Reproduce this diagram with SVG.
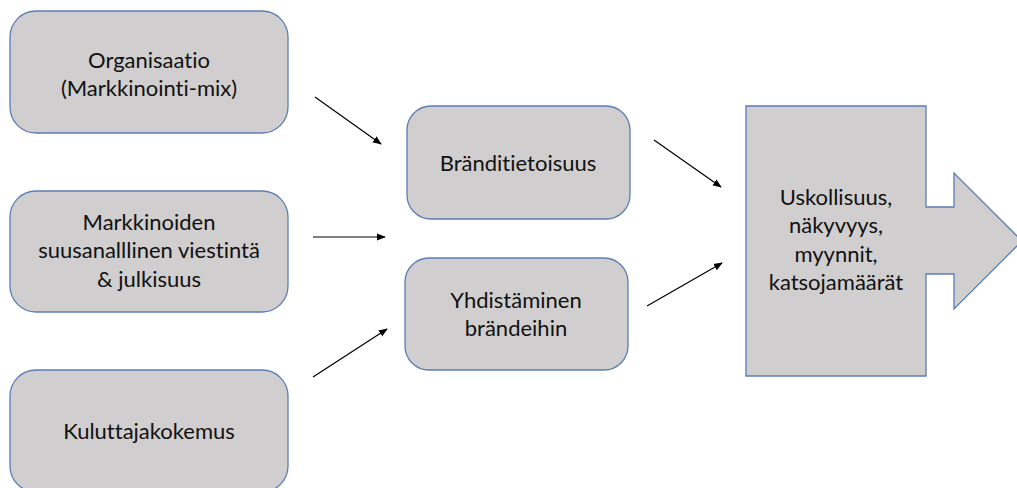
<svg xmlns="http://www.w3.org/2000/svg" width="1017" height="488" viewBox="0 0 1017 488">
<style>
.box{fill:#d0cece;stroke:#5b7db5;stroke-width:1.3}
.t{font-family:Lato,"Open Sans","Liberation Sans",sans-serif;font-size:22px;fill:#111;text-anchor:middle;font-variant-ligatures:none}
.c{stroke:#000;stroke-width:1.2;fill:none;marker-end:url(#ah)}
</style>
<defs>
<marker id="ah" viewBox="0 0 10 10" refX="9" refY="5" markerWidth="9" markerHeight="9" markerUnits="userSpaceOnUse" orient="auto">
<path d="M0,1 L10,5 L0,9 Z" fill="#000"/>
</marker>
</defs>
<rect width="1017" height="488" fill="#fff"/>
<g id="organisaatio">
<rect class="box" x="10" y="11" width="278" height="122" rx="26"/>
<text class="t" x="149" y="68">Organisaatio</text>
<text class="t" x="149" y="96">(Markkinointi-mix)</text>
</g>
<g id="markkinoiden">
<rect class="box" x="10" y="191" width="278" height="121" rx="26"/>
<text class="t" x="149" y="230">Markkinoiden</text>
<text class="t" x="149" y="258">suusanalllinen viestintä</text>
<text class="t" x="149" y="287">&amp; julkisuus</text>
</g>
<g id="kuluttajakokemus">
<rect class="box" x="10" y="370" width="278" height="122" rx="26"/>
<text class="t" x="149" y="439">Kuluttajakokemus</text>
</g>
<g id="brandtietoisuus">
<rect class="box" x="407" y="106" width="223" height="113" rx="24"/>
<text class="t" x="518" y="171">Bränditietoisuus</text>
</g>
<g id="yhdistaminen">
<rect class="box" x="405" y="258" width="223" height="112" rx="24"/>
<text class="t" x="516" y="308">Yhdistäminen</text>
<text class="t" x="516" y="336">brändeihin</text>
</g>
<g id="tulokset">
<path class="box" d="M746,106 H926 V207 H954 V173 L1022,241 L954,309 V274 H926 V376 H746 Z"/>
<text class="t" x="836" y="205">Uskollisuus,</text>
<text class="t" x="836" y="233">näkyvyys,</text>
<text class="t" x="836" y="262">myynnit,</text>
<text class="t" x="836" y="290">katsojamäärät</text>
</g>
<g id="connectors">
<line class="c" x1="315" y1="97" x2="381" y2="144"/>
<line class="c" x1="313" y1="237" x2="385" y2="237"/>
<line class="c" x1="313" y1="377" x2="387" y2="329"/>
<line class="c" x1="654" y1="140" x2="721" y2="187"/>
<line class="c" x1="647" y1="306" x2="722" y2="263"/>
</g>
</svg>
